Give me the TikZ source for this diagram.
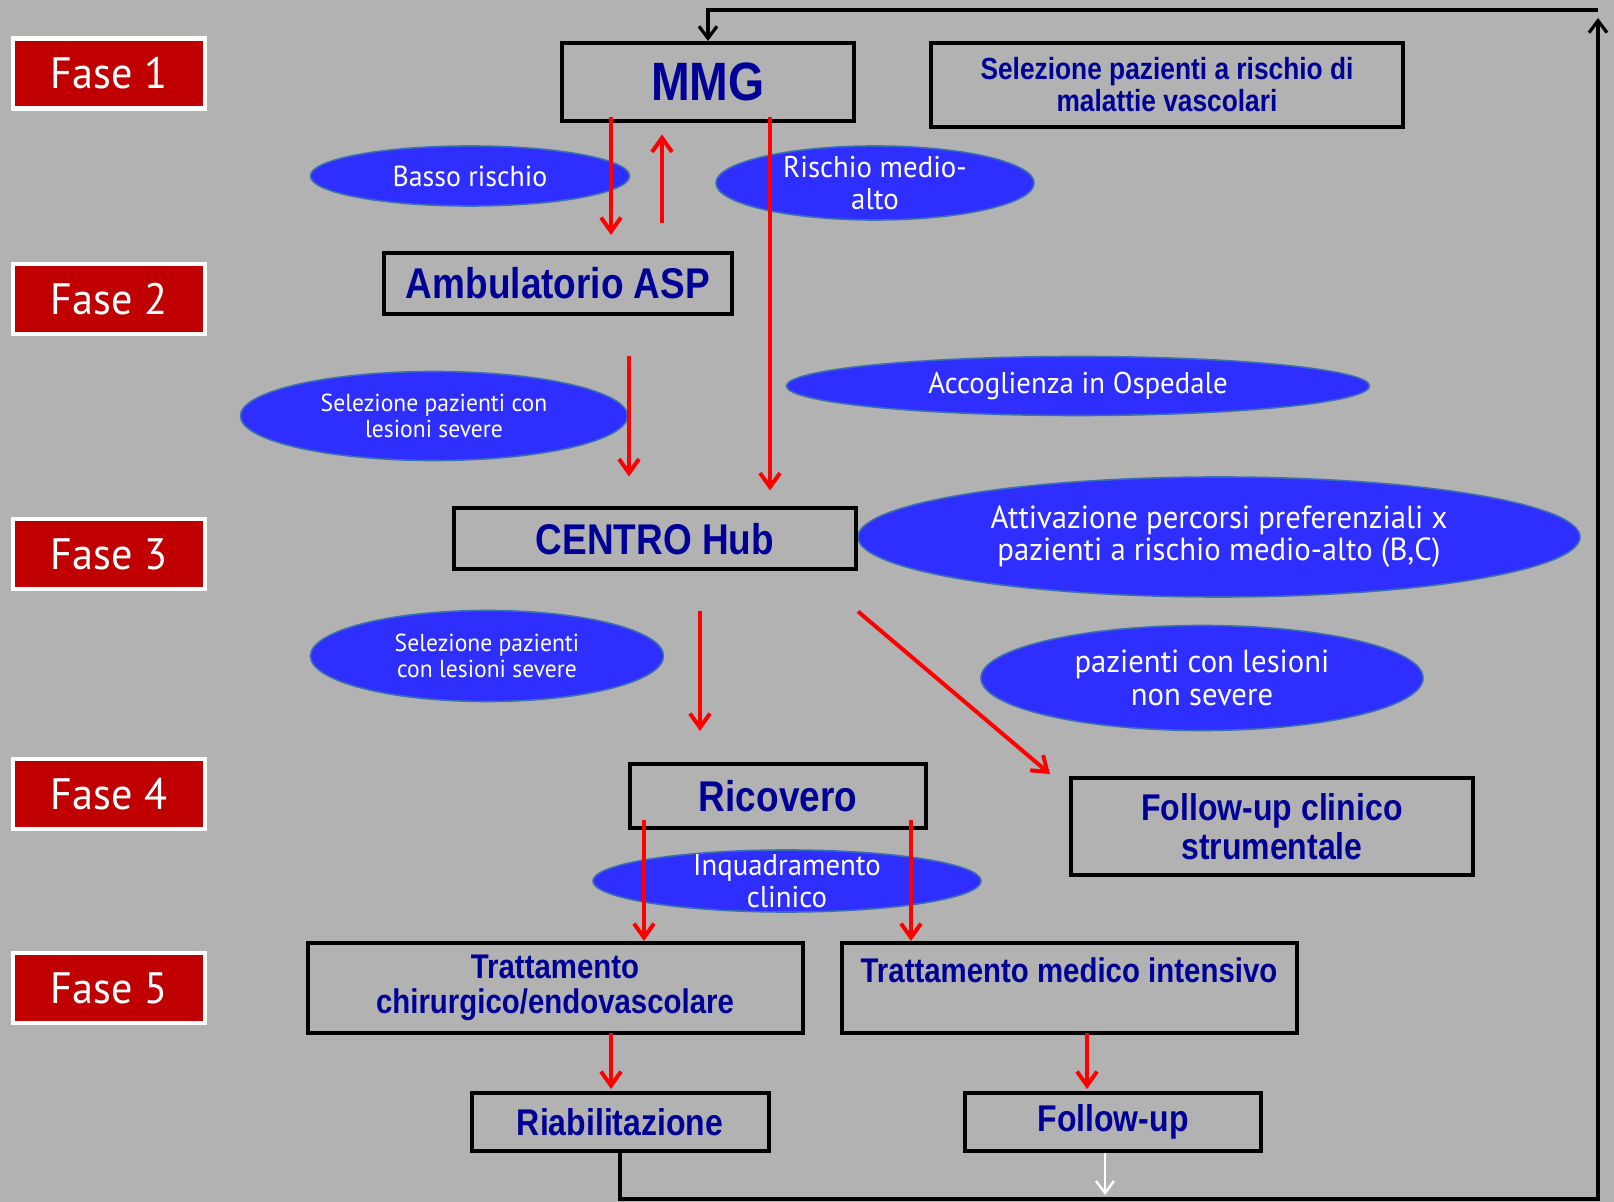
\documentclass[tikz,border=0pt]{standalone}
\usepackage{fontspec}
\usetikzlibrary{arrows.meta,positioning,shapes.geometric}
\newfontfamily\boxfont{Liberation Sans}[FakeStretch=0.86]
\newfontfamily\ovalfont{PT Sans}[FakeStretch=0.96]
\definecolor{bggray}{RGB}{178,178,178}
\definecolor{faseRed}{RGB}{192,0,0}
\definecolor{ovalBlue}{RGB}{46,46,255}
\definecolor{ovalEdge}{RGB}{60,110,180}
\definecolor{boxBlue}{RGB}{0,0,150}
\definecolor{flowRed}{RGB}{255,0,0}

\begin{document}
\begin{tikzpicture}[x=0.5pt, y=-0.5pt,
    fase/.style={draw=white, line width=2.2pt, fill=faseRed, text=white,
        font=\ovalfont\fontsize{22}{24}\selectfont, minimum width=96pt, minimum height=35pt},
    box/.style={draw=black, line width=2pt, text=boxBlue, align=center, inner sep=0pt},
    oval/.style={ellipse, fill=ovalBlue, draw=ovalEdge, line width=0.8pt, text=white,
        align=center, inner xsep=0pt, inner ysep=-6pt},
    flow/.style={flowRed, line width=2pt, -{Straight Barb[length=7pt, width=10pt, line width=2pt]}},
    back/.style={black, line width=1.6pt},
    backarrow/.style={back, -{Straight Barb[length=6pt, width=9pt, line width=1.6pt]}}]

    % background and page size
    \fill[bggray] (0,0) rectangle (1614,1202);
    \useasboundingbox (0,0) rectangle (1614,1202);

    % phase labels
    \foreach \n/\y in {1/73.5, 2/299, 3/554, 4/794, 5/988} {
        \node[fase] (fase\n) at (109,\y) {Fase \n};
    }

    % ovals
    \begin{scope}[every node/.append style={oval}]
        \node[minimum width=159.5pt, minimum height=30pt, font=\ovalfont\fontsize{14.5}{16}\selectfont]
            (basso) at (470,176) {Basso rischio};
        \node[minimum width=159pt, minimum height=37pt, font=\ovalfont\fontsize{15}{16}\selectfont]
            (rischio) at (875,183) {Rischio medio-\\alto};
        \node[minimum width=193.5pt, minimum height=44.5pt, font=\ovalfont\fontsize{12.3}{12.9}\selectfont]
            (selA) at (434,416) {Selezione pazienti con\\lesioni severe};
        \node[minimum width=291.5pt, minimum height=29.5pt, font=\ovalfont\fontsize{15}{16}\selectfont]
            (acc) at (1078,386) {Accoglienza in Ospedale};
        \node[minimum width=361pt, minimum height=60pt, font=\ovalfont\fontsize{16}{16}\selectfont]
            (att) at (1219,537) {Attivazione percorsi preferenziali x\\pazienti a rischio medio-alto (B,C)};
        \node[minimum width=176.5pt, minimum height=45.5pt, font=\ovalfont\fontsize{12.3}{12.9}\selectfont]
            (selB) at (487,656) {Selezione pazienti\\con lesioni severe};
        \node[minimum width=221pt, minimum height=52.5pt, font=\ovalfont\fontsize{16}{16.5}\selectfont]
            (nonsev) at (1202,678) {pazienti con lesioni\\non severe};
        \node[minimum width=194pt, minimum height=31pt, font=\ovalfont\fontsize{15}{16}\selectfont]
            (inq) at (787,881) {Inquadramento\\clinico};
    \end{scope}

    % boxes
    \node[box, minimum width=146pt, minimum height=39pt, font=\boxfont\bfseries\fontsize{27}{30}\selectfont]
        (mmg) at (708,82) {MMG};
    \node[box, minimum width=236pt, minimum height=42pt, font=\boxfont\bfseries\fontsize{15.3}{16}\selectfont]
        (sel) at (1167,85) {Selezione pazienti a rischio di\\malattie vascolari};
    \node[box, minimum width=174pt, minimum height=30.5pt, font=\boxfont\bfseries\fontsize{21.5}{24}\selectfont]
        (amb) at (558,283.5) {Ambulatorio ASP};
    \node[box, minimum width=201pt, minimum height=30.5pt, font=\boxfont\bfseries\fontsize{21.5}{24}\selectfont]
        (hub) at (655,539) {CENTRO Hub};
    \node[box, minimum width=148pt, minimum height=32pt, font=\boxfont\bfseries\fontsize{21.5}{24}\selectfont]
        (ric) at (778,796) {Ricovero};
    \node[box, minimum width=201pt, minimum height=48.5pt, font=\boxfont\bfseries\fontsize{18.6}{19.5}\selectfont]
        (fuc) at (1272,826.5) {Follow-up clinico\\strumentale};
    \node[box, minimum width=247.5pt, minimum height=45pt, font=\boxfont\bfseries\fontsize{17.1}{17.5}\selectfont]
        (tc) at (555,988) {Trattamento\\chirurgico/endovascolare};
    \node[box, minimum width=227.5pt, minimum height=45pt, font=\boxfont\bfseries\fontsize{17.1}{17.5}\selectfont]
        (tm) at (1069,988) {Trattamento medico intensivo\\\mbox{}};
    \node[box, minimum width=148.5pt, minimum height=29pt, font=\boxfont\bfseries\fontsize{18.6}{19}\selectfont]
        (riab) at (620,1122) {Riabilitazione};
    \node[box, minimum width=148pt, minimum height=29pt, font=\boxfont\bfseries\fontsize{18.6}{19}\selectfont]
        (fu) at (1113,1122) {Follow-up};

    % red flow arrows
    \draw[flow] ([xshift=-48.5pt, yshift=3pt]mmg.south) -- ([xshift=26.5pt, yshift=8pt]amb.north);
    \draw[flow] ([xshift=52pt, yshift=14pt]amb.north) -- ([xshift=-23pt, yshift=-5.75pt]mmg.south);
    \draw[flow] ([xshift=31pt, yshift=3pt]mmg.south) -- ([xshift=57.5pt, yshift=8pt]hub.north);
    \draw[flow] ([xshift=35.5pt, yshift=-20pt]amb.south) -- ([xshift=-13pt, yshift=15pt]hub.north);
    \draw[flow] ([xshift=22.5pt, yshift=-20pt]hub.south) -- ([xshift=-39pt, yshift=15.5pt]ric.north);
    \draw[flow] ([yshift=-20pt]hub.south east) -- ([xshift=-9.5pt, yshift=1pt]fuc.north west);
    \draw[flow] ([xshift=-67pt, yshift=5pt]ric.south) -- ([xshift=44.5pt]tc.north);
    \draw[flow] ([xshift=66.5pt, yshift=5pt]ric.south) -- ([xshift=-79pt]tm.north);
    \draw[flow] ([xshift=28pt, yshift=1pt]tc.south) -- ([xshift=-4.5pt, yshift=1pt]riab.north);
    \draw[flow] ([xshift=9pt, yshift=1pt]tm.south) -- ([xshift=-13pt, yshift=1pt]fu.north);

    % feedback loop back to MMG
    \coordinate (loopBL) at (620,1199);
    \coordinate (loopBR) at (1598,1199);
    \coordinate (loopTop) at (1598,18);
    \coordinate (loopTR) at (1598,10);
    \coordinate (loopTL) at (708,10);
    \draw[backarrow] (riab.south) -- (loopBL) -- (loopBR) -- (loopTop);
    \draw[backarrow] (loopTR) -- (loopTL) -- (mmg.north);

    % exit from follow-up
    \coordinate (fuOut) at (1105,1195);
    \draw[white, line width=1.2pt, -{Straight Barb[length=6pt, width=9pt, line width=1.2pt]}]
        ([xshift=-4pt]fu.south) -- (fuOut);

\end{tikzpicture}
\end{document}
